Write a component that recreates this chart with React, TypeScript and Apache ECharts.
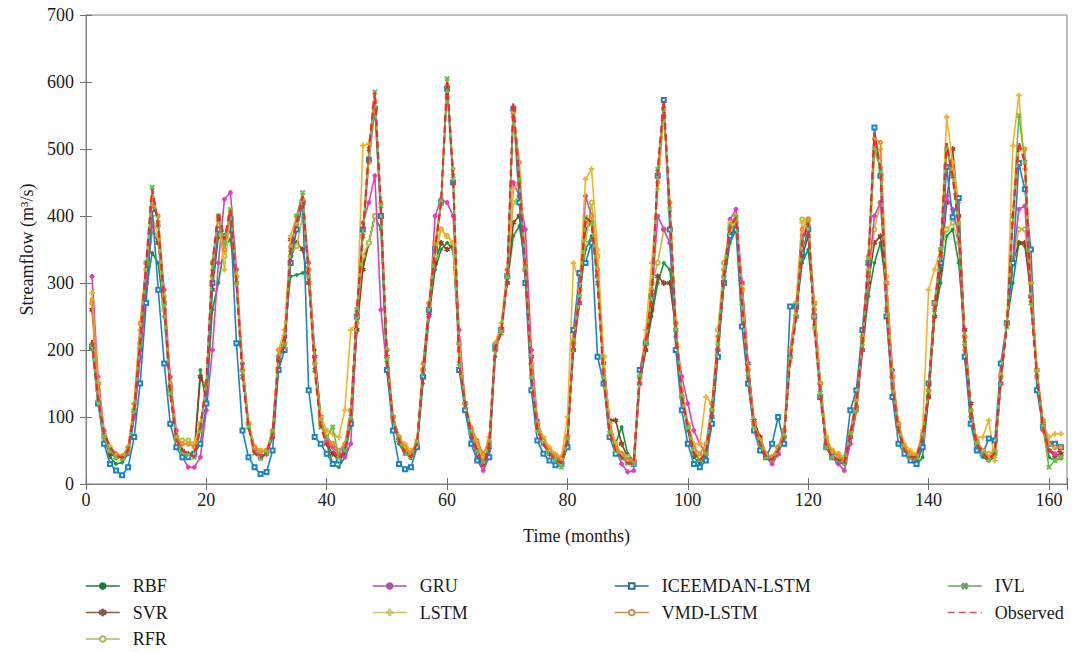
import React, { useEffect, useRef } from "react";
import * as echarts from "echarts";

// Months 1..162
const observed = [
  215,128,76,55,43,39,50,110,210,330,440,384,
  270,135,66,50,46,40,85,150,330,405,365,409,
  300,160,85,46,39,46,75,190,205,350,390,430,
  310,170,85,60,50,38,50,100,260,370,500,585,
  409,185,95,65,46,40,60,170,265,350,420,603,
  458,180,120,76,50,25,60,205,225,310,570,450,
  320,160,80,60,46,36,31,65,210,280,398,390,
  300,160,76,50,40,31,30,160,210,280,469,573,
  409,230,130,85,46,36,46,110,210,310,384,398,
  270,160,85,60,40,36,50,70,185,250,360,390,
  235,136,55,40,36,31,76,120,210,334,524,470,
  260,145,80,50,40,40,70,136,260,350,509,459,
  384,210,110,60,46,36,46,160,235,400,510,480,
  270,160,85,50,46,50,
];
const rbf = [
  210,125,70,40,30,32,45,100,190,290,345,330,
  250,140,70,50,45,45,170,120,260,300,355,365,
  300,180,90,50,42,45,70,180,230,310,312,315,
  320,200,100,60,30,25,40,90,230,330,360,400,
  380,170,95,60,45,40,55,150,250,320,350,360,
  350,200,110,70,40,30,50,190,240,300,370,385,
  330,180,90,60,45,35,28,60,210,280,350,370,
  320,180,90,60,85,45,35,150,200,250,300,330,
  320,240,130,80,40,30,40,90,200,300,360,380,
  290,170,90,60,40,30,45,70,200,260,330,350,
  260,140,60,40,33,30,60,110,200,280,330,360,
  290,150,80,45,35,28,40,130,250,300,370,380,
  330,220,110,55,40,35,40,150,240,300,360,355,
  300,170,90,40,35,38,
];
const svr = [
  260,150,70,45,40,40,48,105,200,300,380,360,
  270,145,70,50,45,45,160,140,290,370,360,380,
  300,170,90,50,40,45,70,185,220,365,360,350,
  300,190,100,60,45,35,45,95,230,320,360,400,
  400,190,100,65,50,40,55,160,255,330,360,350,
  355,210,120,75,50,35,55,200,230,300,390,400,
  320,190,90,60,45,38,35,70,200,270,380,390,
  310,180,95,95,60,40,35,150,200,260,310,300,
  300,230,130,85,45,35,45,100,200,300,370,390,
  300,180,95,70,45,35,45,70,190,250,340,370,
  270,150,60,42,36,32,70,115,200,300,360,370,
  300,160,85,50,40,35,55,130,250,320,420,500,
  400,230,120,60,45,40,45,150,240,330,360,360,
  280,170,90,50,42,45,
];
const rfr = [
  270,140,70,50,42,40,50,110,210,320,380,370,
  260,140,70,65,65,60,90,140,310,380,340,400,
  310,170,90,55,50,50,75,190,210,340,355,400,
  320,180,90,65,60,50,55,110,250,340,360,400,
  400,200,100,70,55,45,60,170,260,340,380,370,
  360,210,120,80,60,45,60,200,230,310,420,430,
  330,180,90,65,50,42,40,70,210,290,360,420,
  340,190,90,60,45,40,35,160,210,300,330,380,
  380,240,130,85,50,40,50,110,230,330,380,390,
  290,170,90,65,45,40,55,80,200,270,395,395,
  260,150,70,50,45,40,75,130,220,310,380,420,
  310,160,90,55,45,42,70,140,270,340,380,390,
  360,220,110,65,50,45,50,160,240,330,380,380,
  300,170,95,60,55,55,
];
const gru = [
  310,160,80,55,45,40,45,100,190,300,385,385,
  290,160,80,40,25,25,40,110,200,330,425,435,
  320,180,90,50,40,45,70,190,200,340,380,420,
  330,190,95,65,55,45,40,60,240,390,420,460,
  260,170,100,70,55,45,60,170,250,400,425,420,
  400,230,120,80,35,20,40,200,230,310,450,430,
  380,200,95,65,50,40,35,70,210,270,430,400,
  310,180,90,55,30,18,20,150,210,280,400,380,
  360,220,160,120,80,60,45,100,200,310,395,410,
  300,180,90,60,40,30,45,70,190,250,370,385,
  270,150,60,40,30,20,60,110,200,310,400,420,
  300,170,85,50,40,38,60,140,270,340,430,410,
  370,190,100,55,45,40,45,150,240,330,410,415,
  280,160,80,50,45,40,
];
const lstm = [
  285,150,75,55,45,40,55,120,230,330,400,370,
  270,140,70,60,60,60,90,150,320,400,320,400,
  310,170,90,55,50,50,80,200,230,370,400,420,
  320,180,100,80,75,70,110,230,240,505,508,560,
  400,200,100,70,60,50,60,170,270,360,380,370,
  360,210,120,80,60,40,70,210,240,320,440,450,
  320,180,90,70,55,45,40,100,330,300,455,470,
  350,190,90,60,45,38,35,160,230,330,440,550,
  420,240,140,90,60,60,130,120,220,320,390,390,
  290,170,90,65,45,40,55,80,200,270,390,395,
  270,150,70,50,45,40,75,130,220,320,490,500,
  300,160,90,60,50,45,80,290,320,350,548,480,
  420,200,100,70,70,95,35,160,240,505,580,470,
  300,170,90,70,75,75,
];
const iceemdan = [
  205,120,60,30,20,13,25,70,150,270,410,290,
  180,90,55,40,40,45,60,120,300,380,370,395,
  210,80,40,25,15,18,50,170,200,330,380,420,
  140,70,60,45,30,35,50,90,250,380,484,560,
  400,170,80,30,22,25,55,160,260,350,420,590,
  450,170,110,60,35,30,40,205,230,310,560,420,
  300,140,65,45,35,28,30,55,230,315,330,360,
  190,150,70,45,40,35,30,170,210,280,460,573,
  380,200,110,60,30,25,35,90,190,300,370,380,
  235,150,80,50,40,60,100,60,265,265,345,380,
  250,130,55,40,35,35,110,140,230,330,532,460,
  250,130,60,45,35,30,55,150,270,330,473,398,
  427,190,90,50,45,68,65,180,240,330,479,440,
  350,140,85,60,60,55,
];
const vmd = [
  275,140,70,50,45,42,55,120,240,330,420,400,
  280,150,70,60,60,55,80,150,330,400,350,405,
  300,170,90,55,48,50,80,200,210,355,390,425,
  320,180,95,70,60,50,60,110,250,370,480,570,
  420,200,100,70,55,45,65,180,270,360,420,595,
  470,200,120,85,65,45,65,210,230,320,555,480,
  330,170,90,65,50,42,38,70,215,290,390,400,
  320,170,85,55,45,35,35,160,215,290,450,560,
  420,240,140,90,55,45,60,120,220,320,385,400,
  290,170,90,65,45,40,55,80,200,260,380,395,
  250,150,65,48,42,36,78,125,215,340,515,510,
  300,160,90,55,45,42,75,140,270,350,500,470,
  390,220,110,65,50,40,50,165,240,390,500,500,
  300,170,95,60,55,55,
];
const ivl = [
  208,125,70,50,40,38,48,110,210,330,443,390,
  270,135,65,48,44,40,80,150,330,400,360,410,
  300,160,85,46,38,46,75,190,205,350,400,435,
  310,170,85,70,85,40,50,100,260,370,500,585,
  415,185,95,65,46,40,60,170,265,350,420,605,
  460,180,120,76,50,30,60,205,225,310,550,455,
  320,160,80,60,46,36,25,65,210,280,398,390,
  300,160,76,50,40,31,30,160,210,280,470,560,
  410,230,130,85,46,36,46,110,210,310,384,398,
  270,160,85,60,40,36,50,70,185,250,360,390,
  235,136,55,40,36,31,76,110,210,334,500,470,
  260,145,80,50,40,40,70,136,260,350,500,459,
  384,210,110,60,46,36,46,160,235,400,550,480,
  270,160,85,25,35,40,
];

const seriesNames = ["RBF", "SVR", "RFR", "GRU", "LSTM", "ICEEMDAN-LSTM", "VMD-LSTM", "IVL", "Observed"];
const seriesValues = [rbf, svr, rfr, gru, lstm, iceemdan, vmd, ivl, observed];
const lineColors = ["#0f9a40", "#93401f", "#b5c23a", "#e03fb8", "#f2b52a", "#1a84c6", "#f08a26", "#6dbd4b", "#ee2a2a"];
const legendColors = ["#1c7a3c", "#8a5a44", "#b2b85a", "#a856a8", "#d2c276", "#2c6c8c", "#c8904e", "#6ea062", "#c45a66"];

const PLUS = "path://M4,0h2v4h4v2h-4v4h-2v-4h-4v-2h4z";
const STAR = "path://M4.3,0h1.4v3.8l3.3-1.9l0.7,1.2l-3.3,1.9l3.3,1.9l-0.7,1.2l-3.3-1.9v3.8h-1.4v-3.8l-3.3,1.9l-0.7-1.2l3.3-1.9l-3.3-1.9l0.7-1.2l3.3,1.9z";
const symbols = ["circle", STAR, "emptyCircle", "circle", PLUS, "emptyRect", "emptyCircle", PLUS, "circle"];
const symbolSizes = [3, 5, 4, 4, 5, 4, 3, 5, 0];
const symbolRotates = [0, 0, 0, 0, 0, 0, 0, 45, 0];

const xTickLabels = [0, 20, 40, 60, 80, 100, 120, 140, 160];
const FONT = "'Liberation Serif', 'Times New Roman', serif";

export default function App() {
  const ref = useRef<HTMLDivElement>(null);
  useEffect(() => {
    if (!ref.current) return;
    const chart = echarts.init(ref.current, null, { renderer: "svg" });
    const axisLine = { show: true, lineStyle: { color: "#808080", width: 1 } };
    const tick = { show: true, inside: true, length: 6, lineStyle: { color: "#707070" } };
    const series: any[] = seriesNames.map((name, i) => ({
      name,
      type: "line",
      xAxisIndex: 0,
      yAxisIndex: 0,
      data: seriesValues[i].map((v, k) => [k + 1, v]),
      symbol: symbols[i],
      symbolSize: symbolSizes[i],
      symbolRotate: symbolRotates[i],
      showSymbol: i !== 8,
      showAllSymbol: true,
      lineStyle: {
        color: lineColors[i],
        width: i === 8 ? 2.2 : 1.6,
        type: i === 8 ? [7, 4] : "solid",
      },
      itemStyle: { color: lineColors[i], borderColor: lineColors[i], borderWidth: 1 },
      z: 2 + i,
      emphasis: { disabled: true },
    }));
    // helper series so the top / right tick axes are drawn
    series.push({
      type: "line",
      xAxisIndex: 1,
      yAxisIndex: 1,
      data: [],
      silent: true,
    });
    const legendCol = (names: string[], left: number) => ({
      orient: "vertical",
      left,
      top: 577,
      itemWidth: 34,
      itemHeight: 7,
      itemGap: 8.5,
      padding: 0,
      textStyle: { fontFamily: FONT, fontSize: 18, color: "#1a1a1a", padding: [0, 0, 0, 8] },
      data: names.map((n) => {
        const i = seriesNames.indexOf(n);
        const c = legendColors[i];
        return {
          name: n,
          itemStyle:
            n === "Observed"
              ? { color: "rgba(0,0,0,0)", borderColor: "rgba(0,0,0,0)", borderWidth: 0 }
              : { color: c, borderColor: c },
          lineStyle: { color: c, width: 1.5 },
        };
      }),
    });
    chart.setOption({
      animation: false,
      backgroundColor: "#ffffff",
      grid: {
        left: 86,
        right: 7,
        top: 15,
        bottom: 168,
        containLabel: false,
        show: true,
        borderColor: "#808080",
        borderWidth: 1,
        backgroundColor: "transparent",
      },
      legend: [
        legendCol(["RBF", "SVR", "RFR"], 85),
        legendCol(["GRU", "LSTM"], 372),
        legendCol(["ICEEMDAN-LSTM", "VMD-LSTM"], 614),
        legendCol(["IVL", "Observed"], 947),
      ],
      xAxis: [
        {
          type: "value",
          min: 0,
          max: 163,
          interval: 20,
          position: "bottom",
          name: "Time (months)",
          nameLocation: "middle",
          nameGap: 43,
          nameTextStyle: { fontFamily: FONT, fontSize: 18, color: "#1a1a1a" },
          axisLine,
          axisTick: tick,
          axisLabel: {
            fontFamily: FONT,
            fontSize: 18,
            color: "#1a1a1a",
            margin: 7,
            formatter: (v: number) => (xTickLabels.includes(v) ? String(v) : ""),
          },
          splitLine: { show: false },
        },
        {
          type: "value",
          min: 0,
          max: 163,
          interval: 20,
          position: "top",
          axisLine,
          axisTick: tick,
          axisLabel: { show: false },
          splitLine: { show: false },
        },
      ],
      yAxis: [
        {
          type: "value",
          min: 0,
          max: 700,
          interval: 100,
          position: "left",
          name: "Streamflow (m³/s)",
          nameLocation: "middle",
          nameRotate: 90,
          nameGap: 50,
          nameTextStyle: { fontFamily: FONT, fontSize: 18, color: "#1a1a1a" },
          axisLine,
          axisTick: tick,
          axisLabel: { fontFamily: FONT, fontSize: 18, color: "#1a1a1a", margin: 12 },
          splitLine: { show: false },
        },
        {
          type: "value",
          min: 0,
          max: 700,
          interval: 100,
          position: "right",
          axisLine,
          axisTick: tick,
          axisLabel: { show: false },
          splitLine: { show: false },
        },
      ],
      series,
    });
    return () => chart.dispose();
  }, []);
  return (
    <div
      ref={ref}
      style={{ position: "absolute", left: 0, top: 0, width: 1074, height: 652 }}
    />
  );
}
